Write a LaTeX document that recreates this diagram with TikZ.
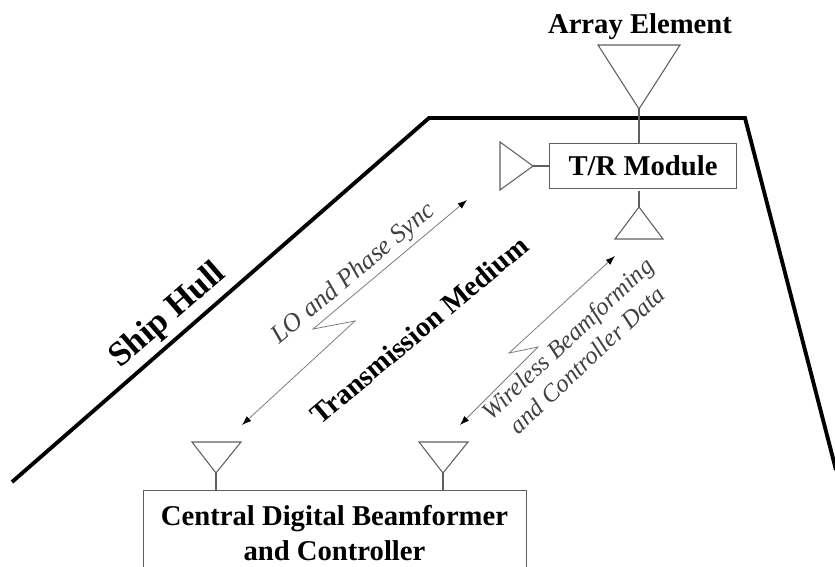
\documentclass[tikz,border=0pt]{standalone}
\usepackage{fontspec}
\setmainfont{Liberation Serif}
\usetikzlibrary{arrows.meta}
\definecolor{linegray}{RGB}{95,95,95}
\definecolor{linkgray}{RGB}{125,125,125}
\definecolor{labelgray}{RGB}{65,65,65}
\tikzset{
  x=0.75pt,y=-0.75pt,
  hull/.style={line width=2.9pt,black,line join=miter},
  ant/.style={draw=linegray,line width=0.8pt,line join=miter},
  wire/.style={draw=linegray,line width=0.8pt},
  boxnode/.style={draw=linegray,line width=0.8pt,inner sep=0pt,font=\bfseries\fontsize{21.5}{25}\selectfont,align=center,anchor=north west},
  link/.style={draw=linkgray,line width=0.6pt,{Latex[length=7pt,width=5pt,black]}-{Latex[length=7pt,width=5pt,black]}},
  title/.style={font=\bfseries\fontsize{21.5}{25}\selectfont,text=black},
  itlabel/.style={font=\itshape\fontsize{19.5}{20}\selectfont,text=labelgray,align=center},
  itlabeltwo/.style={font=\itshape\fontsize{18.6}{21.5}\selectfont,text=labelgray,align=center},
}
\begin{document}
\begin{tikzpicture}
\useasboundingbox (0,0) rectangle (835,567);
\begin{scope}
\clip (0,0) rectangle (835,567);
\draw[hull] (12,482) -- (429,118) -- (745,118) -- (836,470);
\node[boxnode,minimum width=187*0.75pt,minimum height=45*0.75pt] (tr) at (549,143) {T/R Module};
\node[boxnode,minimum width=383*0.75pt,minimum height=100*0.75pt,anchor=north west] (bf) at (143,490) {};
\end{scope}
\node[title] (bftext) at (334.5,536) {\begin{tabular}{@{}c@{}}Central Digital Beamformer\\[1pt]and Controller\end{tabular}};
\node[title] (arr) at (640,27) {Array Element};
\node[title,rotate=41] (shiphull) at (168,316) {\fontsize{26}{30}\selectfont Ship Hull};
\node[title,rotate=40] (medium) at (419,330) {\fontsize{21.5}{26}\selectfont Transmission Medium};
\node[itlabel,rotate=40] (lo) at (354,274) {LO and Phase Sync};
\node[itlabeltwo,rotate=43] (wl) at (577,349) {Wireless Beamforming\\and Controller Data};
% array element
\coordinate (a1) at (598,45); \coordinate (a2) at (680,45); \coordinate (a3) at (639,109);
\draw[ant] (a1) -- (a2) -- (a3) -- cycle;
\draw[wire] (a3) -- (tr.north -| a3);
% left antenna
\coordinate (l1) at (500,142); \coordinate (l2) at (500,190); \coordinate (l3) at (533,166);
\draw[ant] (l1) -- (l3) -- (l2) -- cycle;
\draw[wire] (l3) -- (tr.west |- l3);
% lower antenna
\coordinate (d1) at (615,239); \coordinate (d2) at (663,239); \coordinate (d3) at (639,207); \coordinate (d0) at (639,191);
\draw[ant] (d1) -- (d2) -- (d3) -- cycle;
\draw[wire] (d3) -- (d0);
% beamformer antennas
\coordinate (b1) at (192,442); \coordinate (b2) at (241,442); \coordinate (b3) at (216,473);
\draw[ant] (b1) -- (b2) -- (b3) -- cycle;
\draw[wire] (b3) -- (bf.north -| b3);
\coordinate (c1) at (419,442); \coordinate (c2) at (468,442); \coordinate (c3) at (443,473);
\draw[ant] (c1) -- (c2) -- (c3) -- cycle;
\draw[wire] (c3) -- (bf.north -| c3);
% links
\coordinate (p1) at (242,425); \coordinate (p2) at (355,321); \coordinate (p3) at (313,329); \coordinate (p4) at (467,200);
\draw[link] (p1) -- (p2) -- (p3) -- (p4);
\coordinate (q1) at (460,425); \coordinate (q2) at (538,347); \coordinate (q3) at (509,353); \coordinate (q4) at (615,256);
\draw[link] (q1) -- (q2) -- (q3) -- (q4);
\end{tikzpicture}
\end{document}
